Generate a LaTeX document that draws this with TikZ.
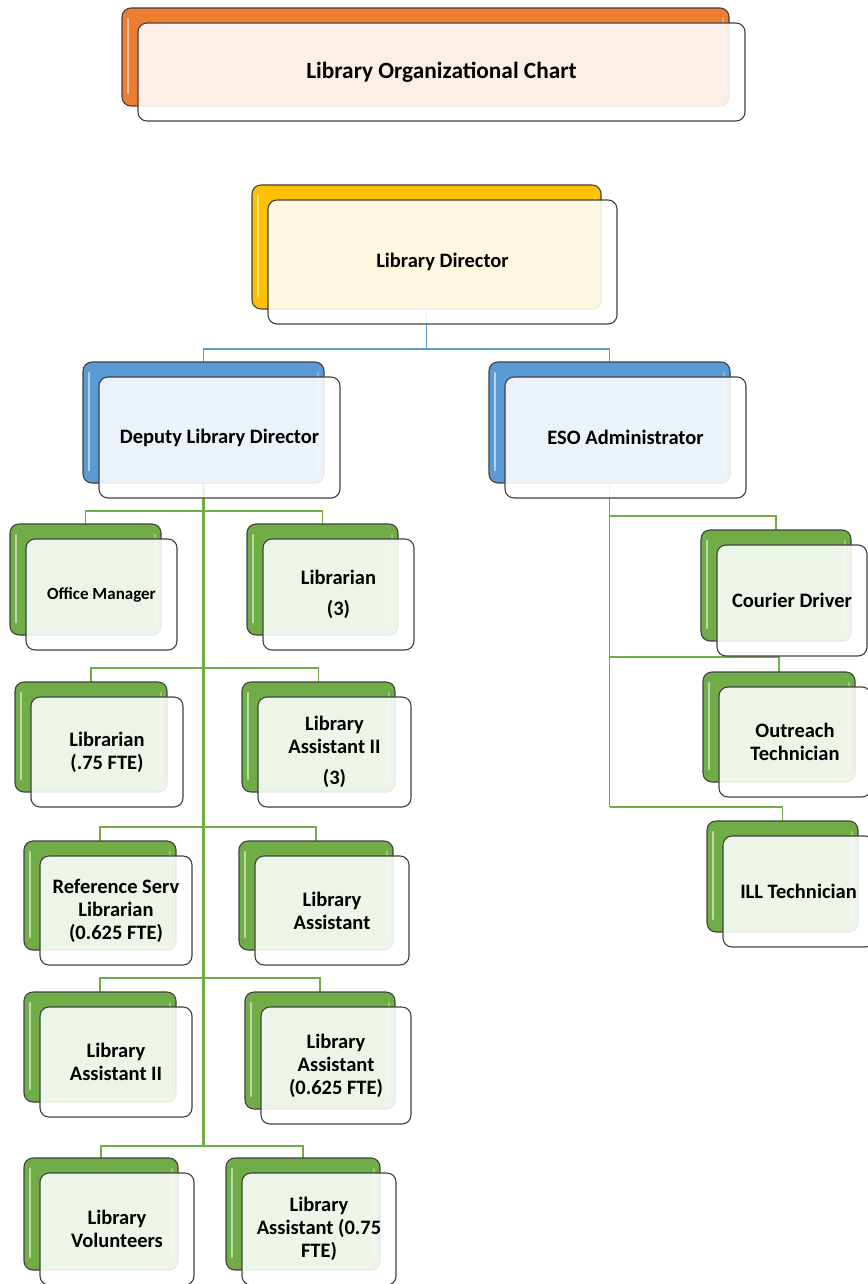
\documentclass[tikz,border=0pt]{standalone}
\usepackage{fontspec}
\setmainfont{Carlito}
\pgfdeclarelayer{bg}
\pgfsetlayers{bg,main}
\definecolor{cOrange}{HTML}{ED7D31}
\definecolor{cGold}{HTML}{FFC000}
\definecolor{cBlue}{HTML}{5B9BD5}
\definecolor{cGreen}{HTML}{70AD47}
\definecolor{cEdge}{HTML}{404040}
\tikzset{
  backbox/.style={draw=cEdge, line width=1.1pt, rounded corners=9pt, fill=#1, inner sep=0pt, outer sep=0pt},
  frontbox/.style={draw=cEdge, line width=1.1pt, rounded corners=9pt, fill=white, fill opacity=0.88, text opacity=1, inner sep=0pt, outer sep=0pt, align=center, text=black, font=\bfseries\fontsize{20.5}{23}\selectfont},
  hl/.style={draw=white, line width=2.5pt, line cap=round, opacity=0.55},
  blueline/.style={draw=cBlue, line width=1.3pt},
  greenline/.style={draw=cGreen, line width=1.3pt},
  trunkline/.style={draw=cGreen, line width=2.4pt},
}
\newcommand\orgbox[7]{%
  \node[backbox=#6, minimum width=#4pt, minimum height=#5pt] (#1b) at ({#2+#4/2},{#3+#5/2}) {};
  \draw[hl] ([xshift=6pt,yshift=-11pt]#1b.north west) -- ([xshift=6pt,yshift=13pt]#1b.south west);
  \draw[hl,opacity=0.3] ([xshift=-6pt,yshift=-11pt]#1b.north east) -- ([xshift=-6pt,yshift=13pt]#1b.south east);
  \node[frontbox, minimum width=#4pt, minimum height=#5pt] (#1) at ({#2+16+#4/2},{#3+15+#5/2}) {#7};
}
\begin{document}
\begin{tikzpicture}[x=1pt,y=-1pt]
\useasboundingbox (0,0) rectangle (867,1284);

\orgbox{t}{122}{8}{607}{98}{cOrange}{\fontsize{23.3}{26}\selectfont Library Organizational Chart}
\orgbox{dir}{252}{185}{349}{124}{cGold}{Library Director}
\orgbox{dep}{83}{362}{241}{121}{cBlue}{Deputy Library Director}
\orgbox{eso}{489}{362}{241}{121}{cBlue}{ESO Administrator}

\orgbox{om}{10}{524}{151}{111}{cGreen}{\fontsize{17}{20}\selectfont Office Manager}
\orgbox{lib3}{247}{524}{151}{111}{cGreen}{Librarian\\[8pt](3)}
\orgbox{lib75}{15}{682}{152}{110}{cGreen}{Librarian\\(.75 FTE)}
\orgbox{la2c}{242}{682}{153}{110}{cGreen}{Library\\Assistant II\\[8pt](3)}
\orgbox{ref}{24}{841}{152}{109}{cGreen}{Reference Serv\\Librarian\\(0.625 FTE)}
\orgbox{la}{239}{841}{154}{109}{cGreen}{Library\\Assistant}
\orgbox{la2}{24}{992}{152}{110}{cGreen}{Library\\Assistant II}
\orgbox{la625}{245}{992}{150}{117}{cGreen}{Library\\Assistant\\(0.625 FTE)}
\orgbox{vol}{24}{1158}{154}{112}{cGreen}{Library\\Volunteers}
\orgbox{la75}{226}{1158}{154}{112}{cGreen}{Library\\Assistant (0.75\\FTE)}

\orgbox{cour}{701}{530}{150}{111}{cGreen}{Courier Driver}
\orgbox{outr}{703}{672}{152}{110}{cGreen}{Outreach\\Technician}
\orgbox{ill}{707}{821}{151}{111}{cGreen}{ILL Technician}

\begin{pgfonlayer}{bg}
  \coordinate (jd) at (426.5,349);
  \draw[blueline] (dirb.south) -- (jd);
  \draw[blueline] (depb.north) |- (jd) -| (esob.north);

  \coordinate (r1) at (203.5,511);
  \coordinate (r2) at (203.5,668);
  \coordinate (r3) at (203.5,827);
  \coordinate (r4) at (203.5,978);
  \coordinate (r5) at (203.5,1146);
  \draw[trunkline] (depb.south) -- (r5);
  \draw[greenline] (omb.north) |- (r1) -| (lib3b.north);
  \draw[greenline] (lib75b.north) |- (r2) -| (la2cb.north);
  \draw[greenline] (refb.north) |- (r3) -| (lab.north);
  \draw[greenline] (la2b.north) |- (r4) -| (la625b.north);
  \draw[greenline] (volb.north) |- (r5) -| (la75b.north);

  \coordinate (e1) at (609.5,516);
  \coordinate (e2) at (609.5,657);
  \coordinate (e3) at (609.5,807);
  \draw[greenline] (esob.south) -- (e3);
  \draw[greenline] (e1) -| (courb.north);
  \draw[greenline] (e2) -| (outrb.north);
  \draw[greenline] (e3) -| (illb.north);
\end{pgfonlayer}
\end{tikzpicture}
\end{document}
